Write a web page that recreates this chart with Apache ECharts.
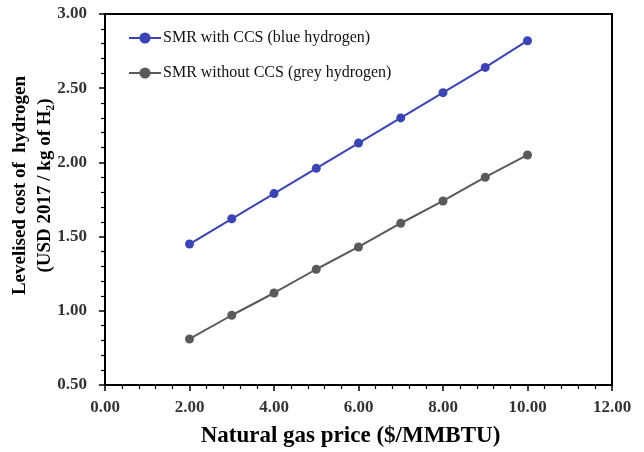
<!DOCTYPE html>
<html>
<head>
<meta charset="utf-8">
<script src="https://cdn.jsdelivr.net/npm/echarts@6/dist/echarts.min.js"></script>
<style>html,body{margin:0;padding:0;background:#fff}#c{width:644px;height:452px}</style>
</head>
<body>
<div id="c"></div>
<script>
const gasPrice = [2, 3, 4, 5, 6, 7, 8, 9, 10];
const blueHydrogen = [1.45, 1.62, 1.79, 1.96, 2.13, 2.30, 2.47, 2.64, 2.82];
const greyHydrogen = [0.81, 0.97, 1.12, 1.28, 1.43, 1.59, 1.74, 1.90, 2.05];
const seriesNames = ['SMR with CCS (blue hydrogen)', 'SMR without CCS (grey hydrogen)'];
const xTitle = 'Natural gas price ($/MMBTU)';
const yTitle = 'Levelised cost of  hydrogen\n(USD 2017 / kg of H\u2082)';

const font = '"Liberation Serif", "Times New Roman", serif';
const chart = echarts.init(document.getElementById('c'));
const pairs = arr => gasPrice.map((x, i) => [x, arr[i]]);
chart.setOption({
  animation: false,
  grid: {left: 105, right: 32, top: 14, bottom: 67, show: true, borderColor: '#000', borderWidth: 2,
    containLabel: false, outerBoundsMode: 'none'},
  legend: {
    orient: 'vertical', left: 123, top: 25, itemWidth: 32, itemHeight: 14, itemGap: 19,
    textStyle: {fontFamily: font, fontSize: 16, color: '#111', padding: [0, 0, 0, -3]},
    data: seriesNames
  },
  xAxis: {
    type: 'value', min: 0, max: 12, interval: 2,
    name: xTitle, nameLocation: 'middle', nameGap: 40, nameMoveOverlap: false,
    nameTextStyle: {fontFamily: font, fontSize: 23, fontWeight: 'bold', color: '#000', padding: [0, 16, 0, 0]},
    axisLine: {show: true, onZero: false, lineStyle: {color: '#000', width: 2}},
    axisTick: {show: true, inside: false, length: 6, lineStyle: {color: '#000', width: 1.5}},
    minorTick: {show: true, splitNumber: 5, length: 4, lineStyle: {color: '#000', width: 1.2}},
    splitLine: {show: false},
    axisLabel: {fontFamily: font, fontSize: 17, fontWeight: 'bold', color: '#333', margin: 14,
      formatter: v => v.toFixed(2)}
  },
  yAxis: {
    type: 'value', min: 0.5, max: 3, interval: 0.5,
    name: yTitle, nameLocation: 'middle', nameGap: 47, nameRotate: 90, nameMoveOverlap: false,
    nameTextStyle: {fontFamily: font, fontSize: 19, fontWeight: 'bold', color: '#000', lineHeight: 25, padding: [0, 0, 0, 28]},
    axisLine: {show: true, onZero: false, lineStyle: {color: '#000', width: 2}},
    axisTick: {show: true, inside: false, length: 6, lineStyle: {color: '#000', width: 1.5}},
    minorTick: {show: true, splitNumber: 5, length: 4, lineStyle: {color: '#000', width: 1.2}},
    splitLine: {show: false},
    axisLabel: {fontFamily: font, fontSize: 17, fontWeight: 'bold', color: '#333', margin: 18,
      formatter: v => v.toFixed(2)}
  },
  series: [
    {name: seriesNames[0], type: 'line', data: pairs(blueHydrogen), symbol: 'circle', symbolSize: 9,
      itemStyle: {color: '#3A44B2'}, lineStyle: {color: '#3A44B2', width: 2}},
    {name: seriesNames[1], type: 'line', data: pairs(greyHydrogen), symbol: 'circle', symbolSize: 9,
      itemStyle: {color: '#5A5A5A'}, lineStyle: {color: '#5A5A5A', width: 2}}
  ]
});
</script>
</body>
</html>
